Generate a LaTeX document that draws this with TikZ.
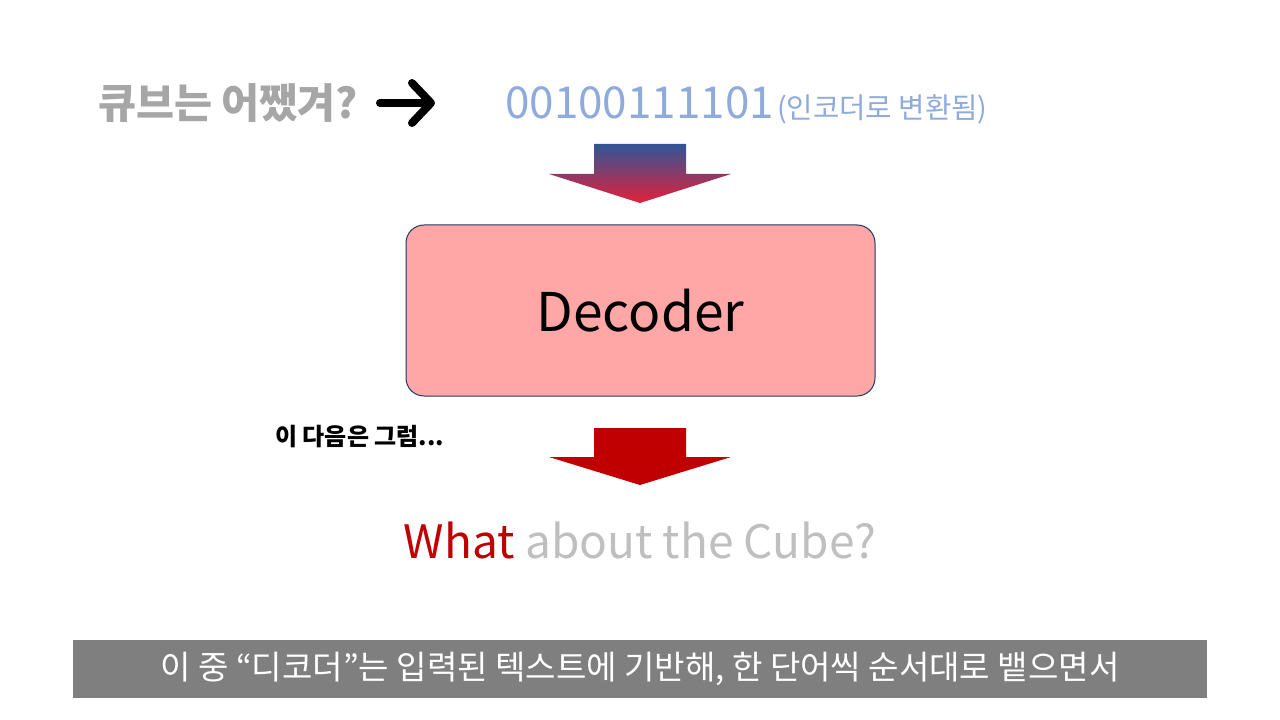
\documentclass[tikz,border=0pt]{standalone}
\usepackage{fontspec}
\setmainfont{Noto Sans CJK KR}
\usetikzlibrary{positioning}
\definecolor{qgray}{HTML}{A6A6A6}
\definecolor{codeblue}{HTML}{8FAADC}
\definecolor{cubegray}{HTML}{BFBFBF}
\definecolor{darkred}{HTML}{C00000}
\definecolor{boxfill}{HTML}{FFA7A7}
\definecolor{boxline}{HTML}{1F3864}
\definecolor{bargray}{HTML}{7F7F7F}
\definecolor{shadetop}{HTML}{2F5597}
\definecolor{shadebottom}{HTML}{E3203A}
\newcommand{\fsize}[1]{\fontsize{#1}{#1}\selectfont}
\tikzset{
  label text/.style = {inner sep=0pt, anchor=west},
  block/.style = {draw=boxline, line width=0.75pt, fill=boxfill, rounded corners=13.5pt,
    minimum width=351.75pt, minimum height=128.25pt, font=\fsize{40}}
}

\begin{document}
\begin{tikzpicture}[x=0.75pt, y=-0.75pt]
        \fill[white] (0,0) rectangle (1280,720);
        \useasboundingbox (0,0) rectangle (1280,720);

        % top line
        \node (question) [label text, text=qgray, font=\bfseries\fsize{31}] at (98,103) {큐브는 어쨌겨?};
        \draw[line width=6pt, line cap=round, line join=round] (380,103) -- (429,103);
        \draw[line width=6pt, line cap=round, line join=round] (412,83) -- (431,103) -- (412,123);
        \node (binary) [label text, text=codeblue, font=\fsize{33}] at (505,103) {00100111101};
        \node (encoded) [label text, text=codeblue, font=\fsize{21.5}, right=2pt of binary.base east, anchor=base west] {(인코더로 변환됨)};

        % arrow into the decoder
        \shade[top color=shadetop, bottom color=shadebottom]
          (594,144) -- (686,144) -- (686,174) -- (731,174) -- (640,203) -- (549,174) -- (594,174) -- cycle;

        \node (decoder) [block] at (640.5,310.5) {Decoder};

        \node (next) [label text, font=\bfseries\fsize{18}] at (275,437) {이 다음은 그럼...};

        % arrow out of the decoder
        \fill[darkred]
          (594,428) -- (686,428) -- (686,457) -- (731,457) -- (640,485) -- (549,457) -- (594,457) -- cycle;

        \node (cube) [inner sep=0pt, anchor=base, font=\fsize{34.5}] at (640,558) {\textcolor{darkred}{What} \textcolor{cubegray}{about the Cube?}};

        \node (caption) [fill=bargray, text=white, minimum width=850.5pt, minimum height=43.5pt, inner sep=0pt, font=\fsize{24.8}] at (640,669) {이 중 “디코더”는 입력된 텍스트에 기반해, 한 단어씩 순서대로 뱉으면서};
    \end{tikzpicture}
\end{document}
